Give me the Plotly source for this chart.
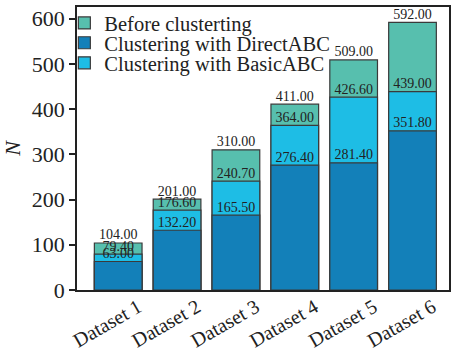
import plotly.graph_objects as go

categories = ["Dataset 1", "Dataset 2", "Dataset 3", "Dataset 4", "Dataset 5", "Dataset 6"]
before = [104.00, 201.00, 310.00, 411.00, 509.00, 592.00]
basic_abc = [79.40, 176.60, 240.70, 364.00, 426.60, 439.00]
direct_abc = [63.00, 132.20, 165.50, 276.40, 281.40, 351.80]

c_before = "#57bfae"
c_direct = "#1380b9"
c_basic = "#1ebde5"
edge = "#3a3a3a"
font_family = "Liberation Serif"

fig = go.Figure()
fig.add_trace(go.Bar(x=categories, y=before, name="Before clusterting",
                     marker=dict(color=c_before, line=dict(color=edge, width=1.2)),
                     width=0.81, legend="legend"))
fig.add_trace(go.Bar(x=categories, y=basic_abc, name="Clustering with BasicABC",
                     marker=dict(color=c_basic, line=dict(color=edge, width=1.2)),
                     width=0.81, legend="legend3"))
fig.add_trace(go.Bar(x=categories, y=direct_abc, name="Clustering with DirectABC",
                     marker=dict(color=c_direct, line=dict(color=edge, width=1.2)),
                     width=0.81, legend="legend2"))

for vals in (before, basic_abc, direct_abc):
    fig.add_trace(go.Scatter(x=categories, y=vals, mode="text",
                             text=[f"{v:.2f}" for v in vals],
                             textposition="top center",
                             textfont=dict(family=font_family, size=14, color="#222222"),
                             showlegend=False, hoverinfo="skip"))

leg_common = dict(x=-0.034, xanchor="left", yanchor="middle",
                  bgcolor="rgba(0,0,0,0)", font=dict(family=font_family, size=20.5, color="#222222"),
                  borderwidth=0)

fig.update_layout(
    width=451, height=352,
    margin=dict(l=77, r=2, t=7, b=62),
    barmode="overlay",
    plot_bgcolor="white", paper_bgcolor="white",
    font=dict(family=font_family, color="#222222"),
    legend=dict(y=0.943, **leg_common),
    legend2=dict(y=0.873, **leg_common),
    legend3=dict(y=0.802, **leg_common),
    showlegend=True,
)
fig.update_xaxes(range=[-0.7, 5.62], showline=True, linecolor="#222222", linewidth=1.5,
                 mirror=True, ticks="", tickangle=-30, automargin=False,
                 ticklabelshift=20, ticklabelstandoff=-4,
                 tickfont=dict(family=font_family, size=20, color="#222222"))
fig.update_yaxes(range=[0, 626], showline=True, linecolor="#222222", linewidth=1.5,
                 mirror=True, ticks="outside", ticklen=6, tickwidth=1.5, tickcolor="#222222",
                 tickvals=[0, 100, 200, 300, 400, 500, 600],
                 showgrid=False, zeroline=False, automargin=False,
                 tickfont=dict(family=font_family, size=22, color="#222222"),
                 title=dict(text="<i>N</i>", font=dict(family=font_family, size=22), standoff=7))

fig.write_html("out.html", config={"displayModeBar": False},
               post_script="document.body.style.margin='0';document.body.style.overflow='hidden';")
